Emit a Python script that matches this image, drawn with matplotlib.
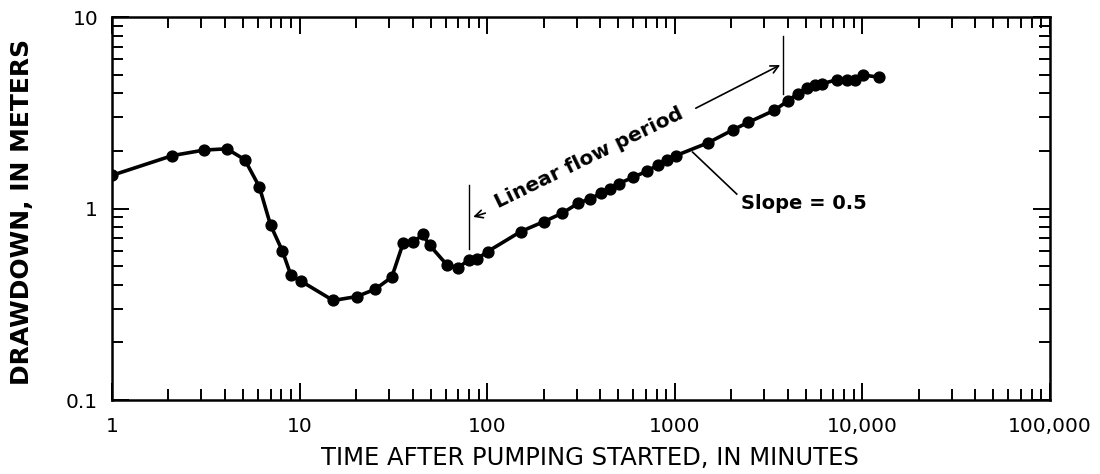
import matplotlib
matplotlib.use("Agg")
import matplotlib.pyplot as plt
from matplotlib.ticker import FixedLocator, FixedFormatter, LogLocator, NullFormatter

# ---- data ----
time_min = [1.0, 2.1, 3.1, 4.1, 5.1, 6.1, 7.0, 8.1, 9.0, 10.2, 15.1, 20.2, 25.3, 31.0,
            35.7, 40.4, 45.3, 49.5, 60.8, 69.6, 80.3, 88.5, 100.6, 151, 201, 251, 306,
            353, 404, 452, 504, 601, 708, 817, 906, 1015, 1500, 2050, 2470, 3380,
            4000, 4520, 5050, 5590, 6070, 7300, 8240, 9120, 10100, 12250]
drawdown_m = [1.49, 1.89, 2.02, 2.05, 1.80, 1.30, 0.82, 0.60, 0.447, 0.417, 0.331, 0.347,
              0.379, 0.438, 0.662, 0.667, 0.732, 0.641, 0.510, 0.490, 0.540, 0.546, 0.596,
              0.758, 0.855, 0.945, 1.066, 1.124, 1.20, 1.27, 1.35, 1.457, 1.565, 1.69,
              1.795, 1.89, 2.20, 2.58, 2.82, 3.25, 3.64, 3.98, 4.27, 4.43, 4.48, 4.70,
              4.70, 4.70, 4.98, 4.85]

x_ticks = [1, 10, 100, 1000, 10000, 100000]
x_tick_labels = ["1", "10", "100", "1000", "10,000", "100,000"]
y_ticks = [0.1, 1, 10]
y_tick_labels = ["0.1", "1", "10"]

# annotation anchors (data coordinates)
linear_start = 80
linear_end = 3760
linear_start_y = [0.618, 1.32]
linear_end_y = [3.97, 8.0]

fig = plt.figure(figsize=(11.0, 4.74), dpi=100)
ax = fig.add_axes([0.1018, 0.1561, 0.8527, 0.8080])

ax.plot(time_min, drawdown_m, color="black", lw=2.6, marker="o", ms=7.8,
        mfc="black", mec="black", zorder=3)

ax.set_xscale("log")
ax.set_yscale("log")
ax.set_xlim(1, 100000)
ax.set_ylim(0.1, 10)

ax.xaxis.set_major_locator(FixedLocator(x_ticks))
ax.xaxis.set_major_formatter(FixedFormatter(x_tick_labels))
ax.yaxis.set_major_locator(FixedLocator(y_ticks))
ax.yaxis.set_major_formatter(FixedFormatter(y_tick_labels))
for a in (ax.xaxis, ax.yaxis):
    a.set_minor_locator(LogLocator(base=10, subs=range(2, 10), numticks=20))
    a.set_minor_formatter(NullFormatter())

ax.tick_params(which="both", direction="in", top=True, right=True, width=1.4,
               color="black")
ax.tick_params(which="major", length=12)
ax.tick_params(which="minor", length=8)
ax.tick_params(axis="x", which="major", labelsize=14.5, pad=12)
ax.tick_params(axis="y", which="major", labelsize=14.5, pad=10)
for s in ax.spines.values():
    s.set_linewidth(1.8)

xl = ax.set_xlabel("TIME AFTER PUMPING STARTED, IN MINUTES", fontsize=17.5)
yl = ax.set_ylabel("DRAWDOWN, IN METERS", fontsize=18, fontweight="bold")
xl.set_va("center")
yl.set_va("center")
ax.xaxis.set_label_coords(0.51, -0.151)
ax.yaxis.set_label_coords(-0.096, 0.492)

# Linear flow period markers
ax.plot([linear_start, linear_start], linear_start_y, color="black", lw=1.0)
ax.plot([linear_end, linear_end], linear_end_y, color="black", lw=1.0)
ax.annotate("", xy=(81.5, 0.895), xytext=(101, 0.956),
            arrowprops=dict(arrowstyle="->", color="black", lw=1.2, mutation_scale=14))
ax.annotate("", xy=(3760, 5.7), xytext=(1256, 3.29),
            arrowprops=dict(arrowstyle="->", color="black", lw=1.2, mutation_scale=14))
ax.text(115, 1.0, "Linear flow period", fontsize=14.5, fontweight="bold",
        rotation=26, rotation_mode="anchor", ha="left", va="baseline")

# Slope annotation
ax.plot([1245, 2140], [1.97, 1.19], color="black", lw=1.2)
ax.text(2245, 1.066, "Slope = 0.5", fontsize=14, fontweight="bold",
        ha="left", va="center")

fig.savefig("out.png", dpi=100)
